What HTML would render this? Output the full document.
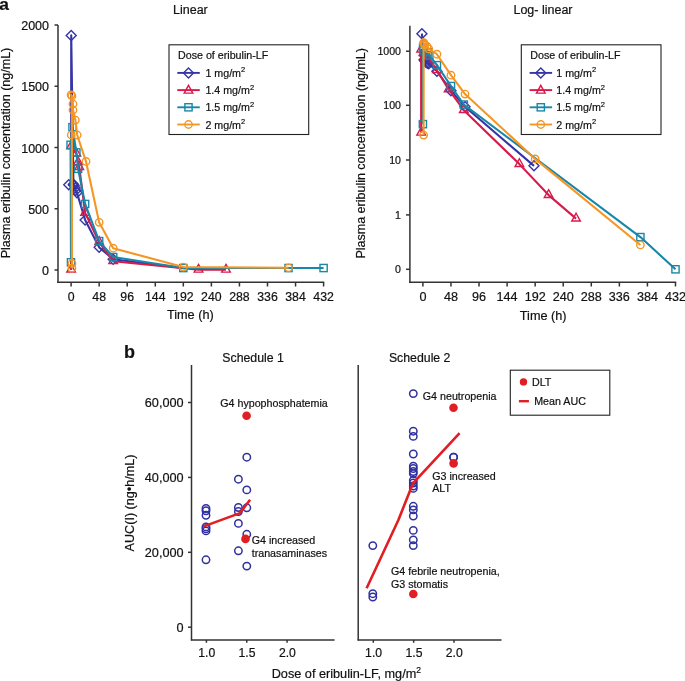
<!DOCTYPE html>
<html><head><meta charset="utf-8"><style>
html,body{margin:0;padding:0;background:#fff;width:685px;height:681px;overflow:hidden}
svg{display:block;will-change:transform}
text{font-family:"Liberation Sans",sans-serif;fill:#111;stroke:#111;stroke-width:0.2px}
</style></head><body>
<svg width="685" height="681" viewBox="0 0 685 681">
<line x1="58.00" y1="25.00" x2="58.00" y2="282.90" stroke="#333" stroke-width="1.5"/>
<line x1="57.25" y1="282.20" x2="324.20" y2="282.20" stroke="#333" stroke-width="1.5"/>
<line x1="54.50" y1="270.00" x2="58.00" y2="270.00" stroke="#333" stroke-width="1.5"/>
<text x="49.00" y="275.00" font-size="12.5" text-anchor="end" >0</text>
<line x1="54.50" y1="208.75" x2="58.00" y2="208.75" stroke="#333" stroke-width="1.5"/>
<text x="49.00" y="213.75" font-size="12.5" text-anchor="end" >500</text>
<line x1="54.50" y1="147.50" x2="58.00" y2="147.50" stroke="#333" stroke-width="1.5"/>
<text x="49.00" y="152.50" font-size="12.5" text-anchor="end" >1000</text>
<line x1="54.50" y1="86.25" x2="58.00" y2="86.25" stroke="#333" stroke-width="1.5"/>
<text x="49.00" y="91.25" font-size="12.5" text-anchor="end" >1500</text>
<line x1="54.50" y1="25.00" x2="58.00" y2="25.00" stroke="#333" stroke-width="1.5"/>
<text x="49.00" y="30.00" font-size="12.5" text-anchor="end" >2000</text>
<line x1="71.10" y1="282.20" x2="71.10" y2="286.50" stroke="#333" stroke-width="1.5"/>
<text x="71.10" y="300.60" font-size="12.3" text-anchor="middle" >0</text>
<line x1="99.16" y1="282.20" x2="99.16" y2="286.50" stroke="#333" stroke-width="1.5"/>
<text x="99.16" y="300.60" font-size="12.3" text-anchor="middle" >48</text>
<line x1="127.21" y1="282.20" x2="127.21" y2="286.50" stroke="#333" stroke-width="1.5"/>
<text x="127.21" y="300.60" font-size="12.3" text-anchor="middle" >96</text>
<line x1="155.27" y1="282.20" x2="155.27" y2="286.50" stroke="#333" stroke-width="1.5"/>
<text x="155.27" y="300.60" font-size="12.3" text-anchor="middle" >144</text>
<line x1="183.32" y1="282.20" x2="183.32" y2="286.50" stroke="#333" stroke-width="1.5"/>
<text x="183.32" y="300.60" font-size="12.3" text-anchor="middle" >192</text>
<line x1="211.38" y1="282.20" x2="211.38" y2="286.50" stroke="#333" stroke-width="1.5"/>
<text x="211.38" y="300.60" font-size="12.3" text-anchor="middle" >240</text>
<line x1="239.44" y1="282.20" x2="239.44" y2="286.50" stroke="#333" stroke-width="1.5"/>
<text x="239.44" y="300.60" font-size="12.3" text-anchor="middle" >288</text>
<line x1="267.49" y1="282.20" x2="267.49" y2="286.50" stroke="#333" stroke-width="1.5"/>
<text x="267.49" y="300.60" font-size="12.3" text-anchor="middle" >336</text>
<line x1="295.55" y1="282.20" x2="295.55" y2="286.50" stroke="#333" stroke-width="1.5"/>
<text x="295.55" y="300.60" font-size="12.3" text-anchor="middle" >384</text>
<line x1="323.60" y1="282.20" x2="323.60" y2="286.50" stroke="#333" stroke-width="1.5"/>
<text x="323.60" y="300.60" font-size="12.3" text-anchor="middle" >432</text>
<text x="190.40" y="14.30" font-size="12.5" text-anchor="middle" >Linear</text>
<text x="190.30" y="319.40" font-size="12.7" text-anchor="middle" >Time (h)</text>
<text x="0.00" y="0.00" font-size="12.5" text-anchor="middle" transform="translate(9.8,153) rotate(-90)">Plasma eribulin concentration (ng/mL)</text>
<polyline points="71.10,269.63 71.22,35.41 73.44,184.25 68.76,184.86 74.02,185.48 75.19,187.93 75.78,190.38 76.94,192.82 85.13,219.90 99.16,247.34 113.18,259.22 183.32,268.04" fill="none" stroke="#3535a5" stroke-width="2.1" stroke-linejoin="round"/>
<path d="M71.22,30.41L76.22,35.41L71.22,40.41L66.22,35.41Z" fill="none" stroke="#3535a5" stroke-width="1.4"/>
<path d="M73.44,179.25L78.44,184.25L73.44,189.25L68.44,184.25Z" fill="none" stroke="#3535a5" stroke-width="1.4"/>
<path d="M68.76,179.86L73.76,184.86L68.76,189.86L63.76,184.86Z" fill="none" stroke="#3535a5" stroke-width="1.4"/>
<path d="M74.02,180.48L79.02,185.48L74.02,190.48L69.02,185.48Z" fill="none" stroke="#3535a5" stroke-width="1.4"/>
<path d="M75.19,182.93L80.19,187.93L75.19,192.93L70.19,187.93Z" fill="none" stroke="#3535a5" stroke-width="1.4"/>
<path d="M75.78,185.38L80.78,190.38L75.78,195.38L70.78,190.38Z" fill="none" stroke="#3535a5" stroke-width="1.4"/>
<path d="M76.94,187.82L81.94,192.82L76.94,197.82L71.94,192.82Z" fill="none" stroke="#3535a5" stroke-width="1.4"/>
<path d="M85.13,214.90L90.13,219.90L85.13,224.90L80.13,219.90Z" fill="none" stroke="#3535a5" stroke-width="1.4"/>
<path d="M99.16,242.34L104.16,247.34L99.16,252.34L94.16,247.34Z" fill="none" stroke="#3535a5" stroke-width="1.4"/>
<path d="M113.18,254.22L118.18,259.22L113.18,264.22L108.18,259.22Z" fill="none" stroke="#3535a5" stroke-width="1.4"/>
<polyline points="71.10,269.63 71.10,146.28 76.36,153.62 78.11,162.20 79.28,167.10 85.13,212.91 99.16,242.07 113.18,261.18 198.52,269.75 225.99,269.75" fill="none" stroke="#d7194b" stroke-width="2.1" stroke-linejoin="round"/>
<path d="M71.10,264.23L75.40,272.03L66.80,272.03Z" fill="none" stroke="#d7194b" stroke-width="1.4"/>
<path d="M71.10,140.88L75.40,148.68L66.80,148.68Z" fill="none" stroke="#d7194b" stroke-width="1.4"/>
<path d="M76.36,148.22L80.66,156.03L72.06,156.03Z" fill="none" stroke="#d7194b" stroke-width="1.4"/>
<path d="M78.11,156.80L82.41,164.60L73.81,164.60Z" fill="none" stroke="#d7194b" stroke-width="1.4"/>
<path d="M79.28,161.70L83.58,169.50L74.98,169.50Z" fill="none" stroke="#d7194b" stroke-width="1.4"/>
<path d="M85.13,207.51L89.43,215.31L80.83,215.31Z" fill="none" stroke="#d7194b" stroke-width="1.4"/>
<path d="M99.16,236.67L103.46,244.47L94.86,244.47Z" fill="none" stroke="#d7194b" stroke-width="1.4"/>
<path d="M113.18,255.78L117.48,263.58L108.88,263.58Z" fill="none" stroke="#d7194b" stroke-width="1.4"/>
<path d="M198.52,264.36L202.82,272.15L194.22,272.15Z" fill="none" stroke="#d7194b" stroke-width="1.4"/>
<path d="M225.99,264.36L230.29,272.15L221.69,272.15Z" fill="none" stroke="#d7194b" stroke-width="1.4"/>
<polyline points="70.98,262.28 70.57,144.81 72.50,127.16 76.36,152.40 78.11,168.81 85.13,203.97 99.16,241.09 113.18,257.01 183.32,268.04 288.53,268.04 323.60,268.04" fill="none" stroke="#1987aa" stroke-width="2.1" stroke-linejoin="round"/>
<rect x="67.38" y="258.68" width="7.20" height="7.20" fill="none" stroke="#1987aa" stroke-width="1.4"/>
<rect x="66.97" y="141.21" width="7.20" height="7.20" fill="none" stroke="#1987aa" stroke-width="1.4"/>
<rect x="68.90" y="123.56" width="7.20" height="7.20" fill="none" stroke="#1987aa" stroke-width="1.4"/>
<rect x="72.76" y="148.80" width="7.20" height="7.20" fill="none" stroke="#1987aa" stroke-width="1.4"/>
<rect x="74.51" y="165.22" width="7.20" height="7.20" fill="none" stroke="#1987aa" stroke-width="1.4"/>
<rect x="81.53" y="200.37" width="7.20" height="7.20" fill="none" stroke="#1987aa" stroke-width="1.4"/>
<rect x="95.56" y="237.49" width="7.20" height="7.20" fill="none" stroke="#1987aa" stroke-width="1.4"/>
<rect x="109.58" y="253.41" width="7.20" height="7.20" fill="none" stroke="#1987aa" stroke-width="1.4"/>
<rect x="179.72" y="264.44" width="7.20" height="7.20" fill="none" stroke="#1987aa" stroke-width="1.4"/>
<rect x="284.93" y="264.44" width="7.20" height="7.20" fill="none" stroke="#1987aa" stroke-width="1.4"/>
<rect x="320.00" y="264.44" width="7.20" height="7.20" fill="none" stroke="#1987aa" stroke-width="1.4"/>
<polyline points="71.92,268.16 71.92,263.51 71.92,95.93 71.10,94.83 72.97,104.01 72.97,110.02 75.37,120.06 77.18,135.00 86.00,161.47 99.16,222.35 113.18,248.19 183.32,267.06 288.53,267.80" fill="none" stroke="#f59623" stroke-width="2.1" stroke-linejoin="round"/>
<circle cx="71.92" cy="268.16" r="3.7" fill="none" stroke="#f59623" stroke-width="1.4"/>
<circle cx="71.92" cy="263.51" r="3.7" fill="none" stroke="#f59623" stroke-width="1.4"/>
<circle cx="71.92" cy="95.93" r="3.7" fill="none" stroke="#f59623" stroke-width="1.4"/>
<circle cx="71.10" cy="94.83" r="3.7" fill="none" stroke="#f59623" stroke-width="1.4"/>
<circle cx="72.97" cy="104.01" r="3.7" fill="none" stroke="#f59623" stroke-width="1.4"/>
<circle cx="72.97" cy="110.02" r="3.7" fill="none" stroke="#f59623" stroke-width="1.4"/>
<circle cx="75.37" cy="120.06" r="3.7" fill="none" stroke="#f59623" stroke-width="1.4"/>
<circle cx="77.18" cy="135.00" r="3.7" fill="none" stroke="#f59623" stroke-width="1.4"/>
<circle cx="86.00" cy="161.47" r="3.7" fill="none" stroke="#f59623" stroke-width="1.4"/>
<circle cx="99.16" cy="222.35" r="3.7" fill="none" stroke="#f59623" stroke-width="1.4"/>
<circle cx="113.18" cy="248.19" r="3.7" fill="none" stroke="#f59623" stroke-width="1.4"/>
<circle cx="183.32" cy="267.06" r="3.7" fill="none" stroke="#f59623" stroke-width="1.4"/>
<circle cx="288.53" cy="267.80" r="3.7" fill="none" stroke="#f59623" stroke-width="1.4"/>
<circle cx="71.22" cy="135.00" r="3.7" fill="none" stroke="#f59623" stroke-width="1.4"/>
<line x1="409.90" y1="25.70" x2="409.90" y2="282.90" stroke="#333" stroke-width="1.5"/>
<line x1="409.15" y1="282.20" x2="676.20" y2="282.20" stroke="#333" stroke-width="1.5"/>
<line x1="406.00" y1="51.20" x2="409.90" y2="51.20" stroke="#333" stroke-width="1.5"/>
<text x="401.00" y="55.00" font-size="10.6" text-anchor="end" >1000</text>
<line x1="406.00" y1="105.30" x2="409.90" y2="105.30" stroke="#333" stroke-width="1.5"/>
<text x="401.00" y="109.10" font-size="10.6" text-anchor="end" >100</text>
<line x1="406.00" y1="160.00" x2="409.90" y2="160.00" stroke="#333" stroke-width="1.5"/>
<text x="401.00" y="163.80" font-size="10.6" text-anchor="end" >10</text>
<line x1="406.00" y1="214.90" x2="409.90" y2="214.90" stroke="#333" stroke-width="1.5"/>
<text x="401.00" y="218.70" font-size="10.6" text-anchor="end" >1</text>
<line x1="406.00" y1="269.30" x2="409.90" y2="269.30" stroke="#333" stroke-width="1.5"/>
<text x="401.00" y="273.10" font-size="10.6" text-anchor="end" >0</text>
<line x1="422.90" y1="282.20" x2="422.90" y2="286.50" stroke="#333" stroke-width="1.5"/>
<text x="422.90" y="301.00" font-size="12.6" text-anchor="middle" >0</text>
<line x1="450.97" y1="282.20" x2="450.97" y2="286.50" stroke="#333" stroke-width="1.5"/>
<text x="450.97" y="301.00" font-size="12.6" text-anchor="middle" >48</text>
<line x1="479.03" y1="282.20" x2="479.03" y2="286.50" stroke="#333" stroke-width="1.5"/>
<text x="479.03" y="301.00" font-size="12.6" text-anchor="middle" >96</text>
<line x1="507.10" y1="282.20" x2="507.10" y2="286.50" stroke="#333" stroke-width="1.5"/>
<text x="507.10" y="301.00" font-size="12.6" text-anchor="middle" >144</text>
<line x1="535.16" y1="282.20" x2="535.16" y2="286.50" stroke="#333" stroke-width="1.5"/>
<text x="535.16" y="301.00" font-size="12.6" text-anchor="middle" >192</text>
<line x1="563.23" y1="282.20" x2="563.23" y2="286.50" stroke="#333" stroke-width="1.5"/>
<text x="563.23" y="301.00" font-size="12.6" text-anchor="middle" >240</text>
<line x1="591.29" y1="282.20" x2="591.29" y2="286.50" stroke="#333" stroke-width="1.5"/>
<text x="591.29" y="301.00" font-size="12.6" text-anchor="middle" >288</text>
<line x1="619.36" y1="282.20" x2="619.36" y2="286.50" stroke="#333" stroke-width="1.5"/>
<text x="619.36" y="301.00" font-size="12.6" text-anchor="middle" >336</text>
<line x1="647.42" y1="282.20" x2="647.42" y2="286.50" stroke="#333" stroke-width="1.5"/>
<text x="647.42" y="301.00" font-size="12.6" text-anchor="middle" >384</text>
<line x1="675.49" y1="282.20" x2="675.49" y2="286.50" stroke="#333" stroke-width="1.5"/>
<text x="675.49" y="301.00" font-size="12.6" text-anchor="middle" >432</text>
<text x="543.00" y="14.20" font-size="12.5" text-anchor="middle" >Log- linear</text>
<text x="543.20" y="319.60" font-size="12.7" text-anchor="middle" >Time (h)</text>
<text x="0.00" y="0.00" font-size="12.5" text-anchor="middle" transform="translate(364.9,153.3) rotate(-90)">Plasma eribulin concentration (ng/mL)</text>
<polyline points="421.91,33.66 424.07,59.67 424.65,60.36 425.24,61.43 426.41,62.54 427.58,63.32 428.75,63.72 436.93,71.21 450.97,90.68 465.00,106.72 533.99,165.86" fill="none" stroke="#3535a5" stroke-width="2.1" stroke-linejoin="round"/>
<path d="M421.91,28.66L426.91,33.66L421.91,38.66L416.91,33.66Z" fill="none" stroke="#3535a5" stroke-width="1.4"/>
<path d="M424.07,54.67L429.07,59.67L424.07,64.67L419.07,59.67Z" fill="none" stroke="#3535a5" stroke-width="1.4"/>
<path d="M424.65,55.36L429.65,60.36L424.65,65.36L419.65,60.36Z" fill="none" stroke="#3535a5" stroke-width="1.4"/>
<path d="M425.24,56.43L430.24,61.43L425.24,66.43L420.24,61.43Z" fill="none" stroke="#3535a5" stroke-width="1.4"/>
<path d="M426.41,57.54L431.41,62.54L426.41,67.54L421.41,62.54Z" fill="none" stroke="#3535a5" stroke-width="1.4"/>
<path d="M427.58,58.32L432.58,63.32L427.58,68.32L422.58,63.32Z" fill="none" stroke="#3535a5" stroke-width="1.4"/>
<path d="M428.75,58.72L433.75,63.72L428.75,68.72L423.75,63.72Z" fill="none" stroke="#3535a5" stroke-width="1.4"/>
<path d="M436.93,66.21L441.93,71.21L436.93,76.21L431.93,71.21Z" fill="none" stroke="#3535a5" stroke-width="1.4"/>
<path d="M450.97,85.68L455.97,90.68L450.97,95.68L445.97,90.68Z" fill="none" stroke="#3535a5" stroke-width="1.4"/>
<path d="M465.00,101.72L470.00,106.72L465.00,111.72L460.00,106.72Z" fill="none" stroke="#3535a5" stroke-width="1.4"/>
<path d="M533.99,160.86L538.99,165.86L533.99,170.86L528.99,165.86Z" fill="none" stroke="#3535a5" stroke-width="1.4"/>
<polyline points="421.15,132.73 421.15,49.62 423.48,52.94 424.07,53.72 425.24,54.80 426.41,55.64 427.58,56.51 436.93,70.19 448.63,89.34 463.83,110.16 519.38,164.12 548.61,195.08 576.09,218.65" fill="none" stroke="#d7194b" stroke-width="2.1" stroke-linejoin="round"/>
<path d="M421.15,127.33L425.45,135.13L416.85,135.13Z" fill="none" stroke="#d7194b" stroke-width="1.4"/>
<path d="M421.15,44.22L425.45,52.02L416.85,52.02Z" fill="none" stroke="#d7194b" stroke-width="1.4"/>
<path d="M423.48,47.54L427.78,55.34L419.18,55.34Z" fill="none" stroke="#d7194b" stroke-width="1.4"/>
<path d="M424.07,48.32L428.37,56.12L419.77,56.12Z" fill="none" stroke="#d7194b" stroke-width="1.4"/>
<path d="M425.24,49.40L429.54,57.20L420.94,57.20Z" fill="none" stroke="#d7194b" stroke-width="1.4"/>
<path d="M426.41,50.24L430.71,58.04L422.11,58.04Z" fill="none" stroke="#d7194b" stroke-width="1.4"/>
<path d="M427.58,51.11L431.88,58.91L423.28,58.91Z" fill="none" stroke="#d7194b" stroke-width="1.4"/>
<path d="M436.93,64.79L441.23,72.59L432.63,72.59Z" fill="none" stroke="#d7194b" stroke-width="1.4"/>
<path d="M448.63,83.94L452.93,91.74L444.33,91.74Z" fill="none" stroke="#d7194b" stroke-width="1.4"/>
<path d="M463.83,104.76L468.13,112.56L459.53,112.56Z" fill="none" stroke="#d7194b" stroke-width="1.4"/>
<path d="M519.38,158.72L523.68,166.52L515.08,166.52Z" fill="none" stroke="#d7194b" stroke-width="1.4"/>
<path d="M548.61,189.68L552.91,197.48L544.31,197.48Z" fill="none" stroke="#d7194b" stroke-width="1.4"/>
<path d="M576.09,213.25L580.39,221.05L571.79,221.05Z" fill="none" stroke="#d7194b" stroke-width="1.4"/>
<polyline points="422.90,124.14 423.08,47.51 423.48,50.53 427.58,52.19 429.33,55.35 436.93,65.17 450.97,86.03 463.83,104.59 640.41,237.10 675.49,269.32" fill="none" stroke="#1987aa" stroke-width="2.1" stroke-linejoin="round"/>
<rect x="419.30" y="120.54" width="7.20" height="7.20" fill="none" stroke="#1987aa" stroke-width="1.4"/>
<rect x="419.48" y="43.91" width="7.20" height="7.20" fill="none" stroke="#1987aa" stroke-width="1.4"/>
<rect x="419.88" y="46.93" width="7.20" height="7.20" fill="none" stroke="#1987aa" stroke-width="1.4"/>
<rect x="423.98" y="48.59" width="7.20" height="7.20" fill="none" stroke="#1987aa" stroke-width="1.4"/>
<rect x="425.73" y="51.75" width="7.20" height="7.20" fill="none" stroke="#1987aa" stroke-width="1.4"/>
<rect x="433.33" y="61.57" width="7.20" height="7.20" fill="none" stroke="#1987aa" stroke-width="1.4"/>
<rect x="447.37" y="82.43" width="7.20" height="7.20" fill="none" stroke="#1987aa" stroke-width="1.4"/>
<rect x="460.23" y="100.99" width="7.20" height="7.20" fill="none" stroke="#1987aa" stroke-width="1.4"/>
<rect x="636.81" y="233.50" width="7.20" height="7.20" fill="none" stroke="#1987aa" stroke-width="1.4"/>
<rect x="671.89" y="265.72" width="7.20" height="7.20" fill="none" stroke="#1987aa" stroke-width="1.4"/>
<polyline points="423.60,135.06 423.60,42.76 423.78,42.92 424.65,44.03 424.65,44.90 426.99,46.44 428.75,48.93 436.93,54.23 450.97,75.16 465.00,94.04 535.16,158.90 640.41,244.94" fill="none" stroke="#f59623" stroke-width="2.1" stroke-linejoin="round"/>
<circle cx="423.60" cy="135.06" r="3.7" fill="none" stroke="#f59623" stroke-width="1.4"/>
<circle cx="423.60" cy="42.76" r="3.7" fill="none" stroke="#f59623" stroke-width="1.4"/>
<circle cx="423.78" cy="42.92" r="3.7" fill="none" stroke="#f59623" stroke-width="1.4"/>
<circle cx="424.65" cy="44.03" r="3.7" fill="none" stroke="#f59623" stroke-width="1.4"/>
<circle cx="424.65" cy="44.90" r="3.7" fill="none" stroke="#f59623" stroke-width="1.4"/>
<circle cx="426.99" cy="46.44" r="3.7" fill="none" stroke="#f59623" stroke-width="1.4"/>
<circle cx="428.75" cy="48.93" r="3.7" fill="none" stroke="#f59623" stroke-width="1.4"/>
<circle cx="436.93" cy="54.23" r="3.7" fill="none" stroke="#f59623" stroke-width="1.4"/>
<circle cx="450.97" cy="75.16" r="3.7" fill="none" stroke="#f59623" stroke-width="1.4"/>
<circle cx="465.00" cy="94.04" r="3.7" fill="none" stroke="#f59623" stroke-width="1.4"/>
<circle cx="535.16" cy="158.90" r="3.7" fill="none" stroke="#f59623" stroke-width="1.4"/>
<circle cx="640.41" cy="244.94" r="3.7" fill="none" stroke="#f59623" stroke-width="1.4"/>
<rect x="169.00" y="44.80" width="139.7" height="89.7" fill="#fff" stroke="#222" stroke-width="1.1"/>
<text x="178.00" y="59.10" font-size="10.7" text-anchor="start" >Dose of eribulin-LF</text>
<line x1="177.30" y1="72.90" x2="199.80" y2="72.90" stroke="#3535a5" stroke-width="1.9"/>
<path d="M188.50,67.90L193.50,72.90L188.50,77.90L183.50,72.90Z" fill="none" stroke="#3535a5" stroke-width="1.4"/>
<text x="205.40" y="76.90" font-size="10.7" text-anchor="start" >1 mg/m<tspan dy="-4.5" font-size="7.5">2</tspan></text>
<line x1="177.30" y1="90.10" x2="199.80" y2="90.10" stroke="#d7194b" stroke-width="1.9"/>
<path d="M188.50,85.30L192.80,93.10L184.20,93.10Z" fill="none" stroke="#d7194b" stroke-width="1.4"/>
<text x="205.40" y="94.10" font-size="10.7" text-anchor="start" >1.4 mg/m<tspan dy="-4.5" font-size="7.5">2</tspan></text>
<line x1="177.30" y1="107.30" x2="199.80" y2="107.30" stroke="#1987aa" stroke-width="1.9"/>
<rect x="184.90" y="103.70" width="7.20" height="7.20" fill="none" stroke="#1987aa" stroke-width="1.4"/>
<text x="205.40" y="111.30" font-size="10.7" text-anchor="start" >1.5 mg/m<tspan dy="-4.5" font-size="7.5">2</tspan></text>
<line x1="177.30" y1="124.50" x2="199.80" y2="124.50" stroke="#f59623" stroke-width="1.9"/>
<circle cx="188.50" cy="124.50" r="3.7" fill="none" stroke="#f59623" stroke-width="1.4"/>
<text x="205.40" y="128.50" font-size="10.7" text-anchor="start" >2 mg/m<tspan dy="-4.5" font-size="7.5">2</tspan></text>
<rect x="521.30" y="44.80" width="139.7" height="89.7" fill="#fff" stroke="#222" stroke-width="1.1"/>
<text x="530.30" y="59.10" font-size="10.7" text-anchor="start" >Dose of eribulin-LF</text>
<line x1="529.60" y1="72.90" x2="552.10" y2="72.90" stroke="#3535a5" stroke-width="1.9"/>
<path d="M540.80,67.90L545.80,72.90L540.80,77.90L535.80,72.90Z" fill="none" stroke="#3535a5" stroke-width="1.4"/>
<text x="556.30" y="76.90" font-size="10.7" text-anchor="start" >1 mg/m<tspan dy="-4.5" font-size="7.5">2</tspan></text>
<line x1="529.60" y1="90.10" x2="552.10" y2="90.10" stroke="#d7194b" stroke-width="1.9"/>
<path d="M540.80,85.30L545.10,93.10L536.50,93.10Z" fill="none" stroke="#d7194b" stroke-width="1.4"/>
<text x="556.30" y="94.10" font-size="10.7" text-anchor="start" >1.4 mg/m<tspan dy="-4.5" font-size="7.5">2</tspan></text>
<line x1="529.60" y1="107.30" x2="552.10" y2="107.30" stroke="#1987aa" stroke-width="1.9"/>
<rect x="537.20" y="103.70" width="7.20" height="7.20" fill="none" stroke="#1987aa" stroke-width="1.4"/>
<text x="556.30" y="111.30" font-size="10.7" text-anchor="start" >1.5 mg/m<tspan dy="-4.5" font-size="7.5">2</tspan></text>
<line x1="529.60" y1="124.50" x2="552.10" y2="124.50" stroke="#f59623" stroke-width="1.9"/>
<circle cx="540.80" cy="124.50" r="3.7" fill="none" stroke="#f59623" stroke-width="1.4"/>
<text x="556.30" y="128.50" font-size="10.7" text-anchor="start" >2 mg/m<tspan dy="-4.5" font-size="7.5">2</tspan></text>
<text x="-0.80" y="9.80" font-size="17.4" text-anchor="start" font-weight="bold" >a</text>
<text x="124.00" y="357.60" font-size="18" text-anchor="start" font-weight="bold" >b</text>
<line x1="191.50" y1="365.00" x2="191.50" y2="640.60" stroke="#333" stroke-width="1.5"/>
<line x1="190.90" y1="640.00" x2="334.60" y2="640.00" stroke="#333" stroke-width="1.5"/>
<line x1="188.00" y1="627.20" x2="191.50" y2="627.20" stroke="#333" stroke-width="1.5"/>
<text x="183.60" y="631.60" font-size="12.7" text-anchor="end" >0</text>
<line x1="188.00" y1="552.30" x2="191.50" y2="552.30" stroke="#333" stroke-width="1.5"/>
<text x="183.60" y="556.70" font-size="12.7" text-anchor="end" >20,000</text>
<line x1="188.00" y1="477.40" x2="191.50" y2="477.40" stroke="#333" stroke-width="1.5"/>
<text x="183.60" y="481.80" font-size="12.7" text-anchor="end" >40,000</text>
<line x1="188.00" y1="402.50" x2="191.50" y2="402.50" stroke="#333" stroke-width="1.5"/>
<text x="183.60" y="406.90" font-size="12.7" text-anchor="end" >60,000</text>
<line x1="206.40" y1="640.00" x2="206.40" y2="642.80" stroke="#333" stroke-width="1.5"/>
<text x="206.70" y="657.30" font-size="12.2" text-anchor="middle" >1.0</text>
<line x1="246.75" y1="640.00" x2="246.75" y2="642.80" stroke="#333" stroke-width="1.5"/>
<text x="247.05" y="657.30" font-size="12.2" text-anchor="middle" >1.5</text>
<line x1="287.10" y1="640.00" x2="287.10" y2="642.80" stroke="#333" stroke-width="1.5"/>
<text x="287.40" y="657.30" font-size="12.2" text-anchor="middle" >2.0</text>
<text x="253.10" y="362.20" font-size="12.3" text-anchor="middle" >Schedule 1</text>
<text x="0.00" y="0.00" font-size="12.6" text-anchor="middle" transform="translate(134.3,503) rotate(-90)">AUC(I) (ng•h/mL)</text>
<line x1="358.20" y1="365.00" x2="358.20" y2="640.60" stroke="#333" stroke-width="1.5"/>
<line x1="357.60" y1="640.00" x2="501.50" y2="640.00" stroke="#333" stroke-width="1.5"/>
<line x1="373.30" y1="640.00" x2="373.30" y2="642.80" stroke="#333" stroke-width="1.5"/>
<text x="373.60" y="657.30" font-size="12.2" text-anchor="middle" >1.0</text>
<line x1="413.65" y1="640.00" x2="413.65" y2="642.80" stroke="#333" stroke-width="1.5"/>
<text x="413.95" y="657.30" font-size="12.2" text-anchor="middle" >1.5</text>
<line x1="454.00" y1="640.00" x2="454.00" y2="642.80" stroke="#333" stroke-width="1.5"/>
<text x="454.30" y="657.30" font-size="12.2" text-anchor="middle" >2.0</text>
<text x="419.70" y="362.00" font-size="12.3" text-anchor="middle" >Schedule 2</text>
<text x="271.70" y="678.40" font-size="12.7" text-anchor="start" >Dose of eribulin-LF, mg/m<tspan dy="-5.2" font-size="8.6">2</tspan></text>
<circle cx="206.00" cy="508.50" r="3.7" fill="none" stroke="#3030a0" stroke-width="1.5"/>
<circle cx="206.00" cy="510.80" r="3.7" fill="none" stroke="#3030a0" stroke-width="1.5"/>
<circle cx="206.00" cy="515.30" r="3.7" fill="none" stroke="#3030a0" stroke-width="1.5"/>
<circle cx="206.00" cy="526.90" r="3.7" fill="none" stroke="#3030a0" stroke-width="1.5"/>
<circle cx="206.00" cy="528.80" r="3.7" fill="none" stroke="#3030a0" stroke-width="1.5"/>
<circle cx="206.00" cy="530.90" r="3.7" fill="none" stroke="#3030a0" stroke-width="1.5"/>
<circle cx="206.00" cy="559.80" r="3.7" fill="none" stroke="#3030a0" stroke-width="1.5"/>
<circle cx="238.40" cy="479.20" r="3.7" fill="none" stroke="#3030a0" stroke-width="1.5"/>
<circle cx="238.40" cy="507.50" r="3.7" fill="none" stroke="#3030a0" stroke-width="1.5"/>
<circle cx="238.40" cy="511.50" r="3.7" fill="none" stroke="#3030a0" stroke-width="1.5"/>
<circle cx="238.40" cy="523.40" r="3.7" fill="none" stroke="#3030a0" stroke-width="1.5"/>
<circle cx="238.40" cy="550.80" r="3.7" fill="none" stroke="#3030a0" stroke-width="1.5"/>
<circle cx="246.80" cy="457.20" r="3.7" fill="none" stroke="#3030a0" stroke-width="1.5"/>
<circle cx="246.80" cy="489.90" r="3.7" fill="none" stroke="#3030a0" stroke-width="1.5"/>
<circle cx="246.80" cy="507.80" r="3.7" fill="none" stroke="#3030a0" stroke-width="1.5"/>
<circle cx="246.80" cy="534.30" r="3.7" fill="none" stroke="#3030a0" stroke-width="1.5"/>
<circle cx="246.80" cy="566.10" r="3.7" fill="none" stroke="#3030a0" stroke-width="1.5"/>
<circle cx="246.60" cy="415.80" r="4.3" fill="#e01e23"/>
<circle cx="245.50" cy="538.90" r="4.3" fill="#e01e23"/>
<polyline points="203.10,526.60 239.90,513.10 250.10,499.70" fill="none" stroke="#e01e23" stroke-width="2.6" stroke-linejoin="round"/>
<text x="274.00" y="407.00" font-size="10.7" text-anchor="middle" >G4 hypophosphatemia</text>
<text x="251.70" y="544.20" font-size="10.7" text-anchor="start" >G4 increased</text>
<text x="251.70" y="557.10" font-size="10.7" text-anchor="start" >tranasaminases</text>
<circle cx="372.80" cy="545.60" r="3.7" fill="none" stroke="#3030a0" stroke-width="1.5"/>
<circle cx="372.80" cy="593.70" r="3.7" fill="none" stroke="#3030a0" stroke-width="1.5"/>
<circle cx="372.80" cy="597.00" r="3.7" fill="none" stroke="#3030a0" stroke-width="1.5"/>
<circle cx="413.30" cy="393.60" r="3.7" fill="none" stroke="#3030a0" stroke-width="1.5"/>
<circle cx="413.30" cy="431.20" r="3.7" fill="none" stroke="#3030a0" stroke-width="1.5"/>
<circle cx="413.30" cy="436.40" r="3.7" fill="none" stroke="#3030a0" stroke-width="1.5"/>
<circle cx="413.30" cy="454.00" r="3.7" fill="none" stroke="#3030a0" stroke-width="1.5"/>
<circle cx="413.30" cy="466.20" r="3.7" fill="none" stroke="#3030a0" stroke-width="1.5"/>
<circle cx="413.30" cy="468.50" r="3.7" fill="none" stroke="#3030a0" stroke-width="1.5"/>
<circle cx="413.30" cy="471.50" r="3.7" fill="none" stroke="#3030a0" stroke-width="1.5"/>
<circle cx="413.30" cy="473.50" r="3.7" fill="none" stroke="#3030a0" stroke-width="1.5"/>
<circle cx="413.30" cy="480.50" r="3.7" fill="none" stroke="#3030a0" stroke-width="1.5"/>
<circle cx="413.30" cy="483.00" r="3.7" fill="none" stroke="#3030a0" stroke-width="1.5"/>
<circle cx="413.30" cy="486.00" r="3.7" fill="none" stroke="#3030a0" stroke-width="1.5"/>
<circle cx="413.30" cy="488.40" r="3.7" fill="none" stroke="#3030a0" stroke-width="1.5"/>
<circle cx="413.30" cy="506.30" r="3.7" fill="none" stroke="#3030a0" stroke-width="1.5"/>
<circle cx="413.30" cy="509.90" r="3.7" fill="none" stroke="#3030a0" stroke-width="1.5"/>
<circle cx="413.30" cy="516.00" r="3.7" fill="none" stroke="#3030a0" stroke-width="1.5"/>
<circle cx="413.30" cy="530.40" r="3.7" fill="none" stroke="#3030a0" stroke-width="1.5"/>
<circle cx="413.30" cy="539.90" r="3.7" fill="none" stroke="#3030a0" stroke-width="1.5"/>
<circle cx="413.30" cy="545.60" r="3.7" fill="none" stroke="#3030a0" stroke-width="1.5"/>
<circle cx="453.60" cy="457.20" r="3.7" fill="none" stroke="#3030a0" stroke-width="1.5"/>
<circle cx="453.60" cy="457.20" r="3.7" fill="none" stroke="#3030a0" stroke-width="1.5"/>
<circle cx="453.50" cy="407.80" r="4.3" fill="#e01e23"/>
<circle cx="453.60" cy="463.40" r="4.3" fill="#e01e23"/>
<circle cx="413.30" cy="594.00" r="4.3" fill="#e01e23"/>
<polyline points="366.60,588.30 398.40,520.00 412.90,483.40 459.60,433.20" fill="none" stroke="#e01e23" stroke-width="2.6" stroke-linejoin="round"/>
<text x="422.80" y="399.60" font-size="10.7" text-anchor="start" >G4 neutropenia</text>
<text x="432.20" y="479.90" font-size="10.7" text-anchor="start" >G3 increased</text>
<text x="432.20" y="492.20" font-size="10.7" text-anchor="start" >ALT</text>
<text x="391.00" y="575.10" font-size="10.7" text-anchor="start" >G4 febrile neutropenia,</text>
<text x="391.00" y="587.50" font-size="10.7" text-anchor="start" >G3 stomatis</text>
<rect x="510.3" y="370.2" width="99.5" height="45" fill="#fff" stroke="#222" stroke-width="1.1"/>
<circle cx="523.50" cy="381.90" r="3.7" fill="#e01e23"/>
<text x="532.00" y="385.90" font-size="10.7" text-anchor="start" >DLT</text>
<line x1="518.90" y1="401.20" x2="528.90" y2="401.20" stroke="#e01e23" stroke-width="2.4"/>
<text x="534.20" y="404.70" font-size="10.7" text-anchor="start" >Mean AUC</text>
</svg></body></html>
